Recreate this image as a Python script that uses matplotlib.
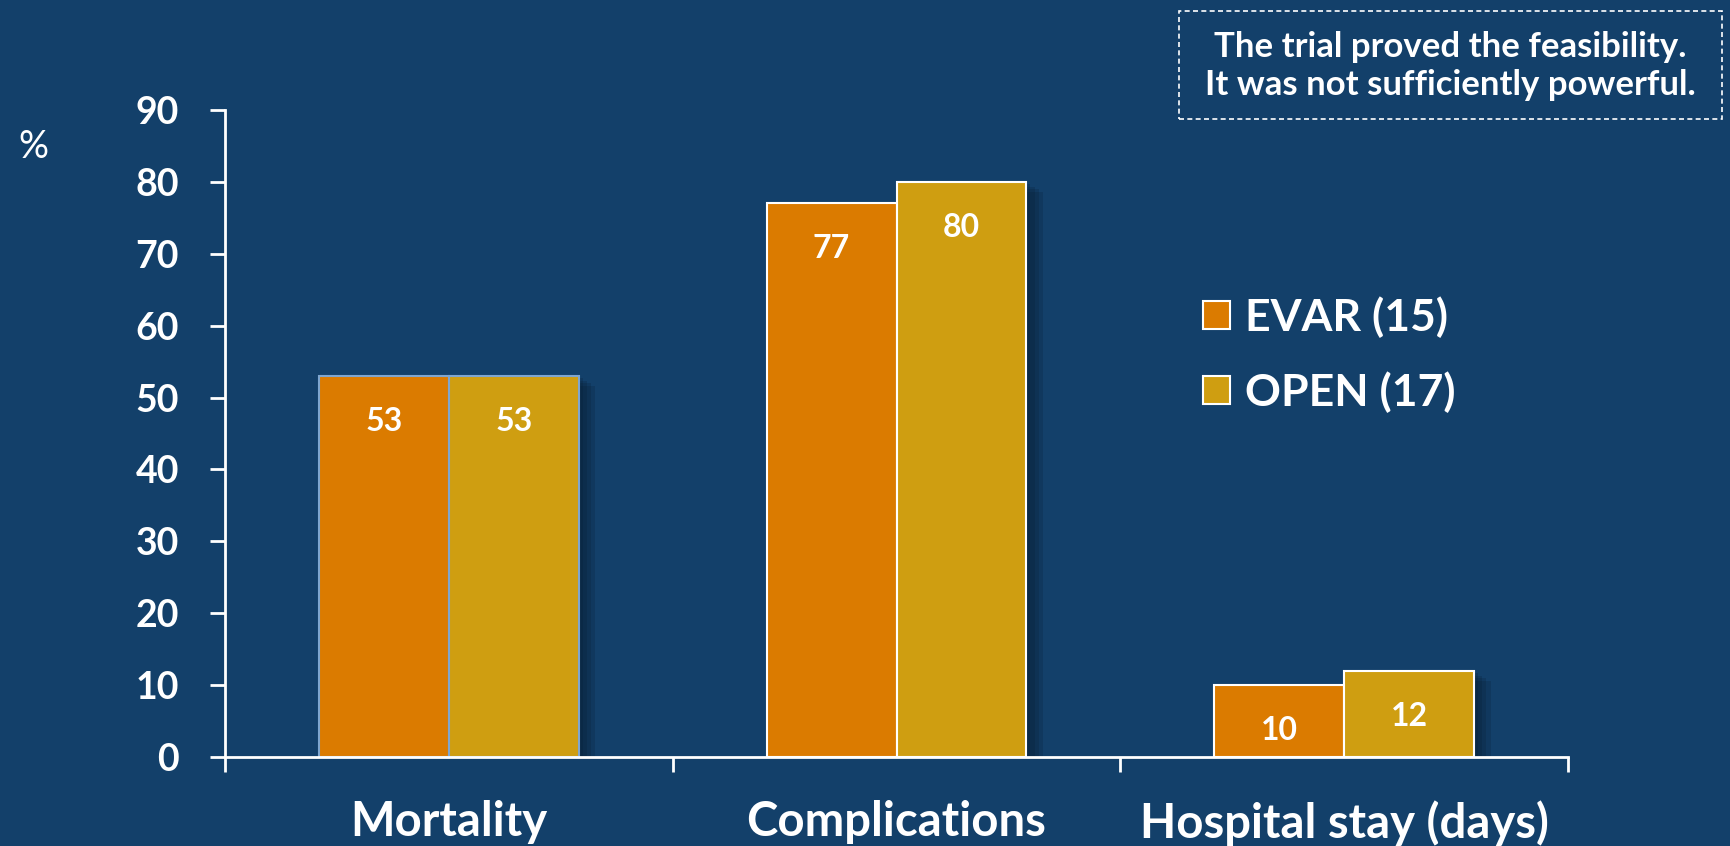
import numpy as np
import matplotlib
matplotlib.use("Agg")
import matplotlib.pyplot as plt
import matplotlib.patheffects as pe
from matplotlib.patches import Rectangle, Patch

# outcomes, EVAR vs OPEN repair
categories = ["Mortality", "Complications", "Hospital stay (days)"]
evar = [53, 77, 10]
open_repair = [53, 80, 12]
series_names = ["EVAR (15)", "OPEN (17)"]
yticks = [0, 10, 20, 30, 40, 50, 60, 70, 80, 90]
note_lines = ["The trial proved the feasibility.", "It was not sufficiently powerful."]

bg = "#13406a"
c_evar = "#db7b00"
c_open = "#cf9e11"
edge_cols = ["#7fa6cf", "white", "white"]

plt.rcParams["font.family"] = ["Lato", "DejaVu Sans"]

fig = plt.figure(figsize=(17.31, 8.46), dpi=100, facecolor=bg)
ax = fig.add_axes([225 / 1731, 1 - 757 / 846, (1568 - 225) / 1731, (757 - 110) / 846])
ax.set_facecolor(bg)

x = np.arange(len(categories))
w = 0.29
shadow = [pe.SimplePatchShadow(offset=(d, -d * 0.6), shadow_rgbFace="#06182b", alpha=0.18)
          for d in (3, 6, 9, 12)] + [pe.Normal()]

b1 = ax.bar(x - w / 2, evar, w, color=c_evar, edgecolor=edge_cols, linewidth=1.5, zorder=2)
b2 = ax.bar(x + w / 2, open_repair, w, color=c_open, edgecolor=edge_cols, linewidth=1.5, zorder=3)
for r in list(b1) + list(b2):
    r.set_path_effects(shadow)

for xi, v in zip(x - w / 2, evar):
    ax.text(xi, v - 6.3, str(v), ha="center", va="center", color="white",
            fontsize=23, fontweight="bold", zorder=5)
for xi, v in zip(x + w / 2, open_repair):
    ax.text(xi, v - 6.3, str(v), ha="center", va="center", color="white",
            fontsize=23, fontweight="bold", zorder=5)

ax.set_xlim(-0.5, len(categories) - 0.5)
ax.set_ylim(0, 90)
ax.set_yticks(yticks)
ax.set_yticklabels([str(t) for t in yticks], fontsize=27, fontweight="bold", color="white")
ax.set_xticks(np.arange(len(categories) + 1) - 0.5)
ax.set_xticklabels([])
ax.set_xticks(x, minor=True)
ax.set_xticklabels(categories, minor=True, fontsize=34, fontweight="bold", color="white")
ax.tick_params(axis="x", which="minor", length=0, pad=31)
ax.tick_params(axis="x", which="major", length=11, width=2, color="white")
ax.tick_params(axis="y", length=11, width=2, color="white", pad=22)
for s in ("top", "right"):
    ax.spines[s].set_visible(False)
for s in ("left", "bottom"):
    ax.spines[s].set_color("white")
    ax.spines[s].set_linewidth(2)
    ax.spines[s].set_zorder(6)

fig.text(33 / 1731, 1 - 147 / 846, "%", fontsize=27, color="white", ha="center", va="center")

handles = [Patch(facecolor=c_evar, edgecolor="white", linewidth=1.5),
           Patch(facecolor=c_open, edgecolor="white", linewidth=1.5)]
fig.legend(handles, series_names, loc="upper left", bbox_to_anchor=(1203 / 1731, 1 - 296 / 846),
           frameon=False, labelcolor="white", prop={"weight": "bold", "size": 32},
           handlelength=0.6, handleheight=0.6, handletextpad=0.35, labelspacing=0.75,
           borderpad=0, borderaxespad=0)

fig.add_artist(Rectangle((1179 / 1731, 1 - 119 / 846), (1722 - 1179) / 1731, 108 / 846,
                         transform=fig.transFigure, fill=False, edgecolor="white",
                         linestyle=(0, (3, 2)), linewidth=1.2))
fig.text(1450 / 1731, 1 - 47 / 846, note_lines[0], fontsize=25, fontweight="bold",
         color="white", ha="center", va="center")
fig.text(1450 / 1731, 1 - 85 / 846, note_lines[1], fontsize=25, fontweight="bold",
         color="white", ha="center", va="center")

fig.savefig("out.png", dpi=100, facecolor=bg)
